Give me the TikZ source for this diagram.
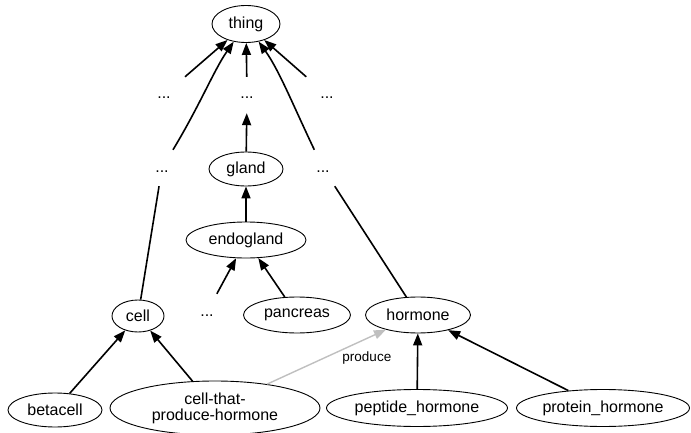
\documentclass[tikz,border=0pt]{standalone}
\usepackage{fontspec}
\setmainfont{Liberation Sans}
\usetikzlibrary{shapes.geometric,arrows.meta}
\begin{document}
\begin{tikzpicture}[x=1pt,y=-1pt,
  every node/.style={font=\fontsize{16}{18}\selectfont},
  cls/.style={ellipse,draw,line width=0.9pt,inner sep=0pt,minimum height=36pt},
  more/.style={inner sep=0pt,minimum width=54pt,minimum height=36pt,text height=11pt,text depth=3pt},
  isa/.style={-{Triangle[length=12pt,width=9pt]},line width=1.6pt},
  link/.style={line width=1.6pt},
  rel/.style={-{Triangle[length=12pt,width=9pt]},line width=1.4pt,draw=black!25}]
\useasboundingbox (0,0) rectangle (691,433);
\node[cls,minimum width=68pt,minimum height=37pt] (thing) at (246,24) {thing};
\node[more] (d1) at (164,95) {...};
\node[more] (d2) at (247,95) {...};
\node[more] (d3) at (327,95) {...};
\node[more] (d4) at (162,168) {...};
\node[cls,minimum width=74pt,minimum height=34pt] (gland) at (246,169) {gland};
\node[more] (d5) at (323,168) {...};
\node[cls,minimum width=120pt] (endogland) at (246,240) {endogland};
\node[cls,minimum width=52pt,minimum height=32pt] (cell) at (138,316) {cell};
\node[more] (d6) at (207,312) {...};
\node[cls,minimum width=107pt] (pancreas) at (297,315) {pancreas};
\node[cls,minimum width=105pt] (hormone) at (418,315) {hormone};
\node[cls,minimum width=94pt,minimum height=34pt] (betacell) at (55,410) {betacell};
\node[cls,minimum width=210pt,minimum height=54pt,align=center,font=\fontsize{16}{16}\selectfont] (producer) at (215,408) {cell-that-\\produce-hormone};
\node[cls,minimum width=181pt,minimum height=37pt] (peptide) at (417,408) {peptide\_hormone};
\node[cls,minimum width=173pt,minimum height=37pt] (protein) at (603,408) {protein\_hormone};
\draw[isa] (d1) -- (thing);
\draw[isa] (d4) .. controls (200,105) and (214,70) .. (thing);
\draw[isa] (d2) -- (thing);
\draw[isa] (d5) .. controls (293,105) and (279,70) .. (thing);
\draw[isa] (d3) -- (thing);
\draw[isa] (gland) -- (d2);
\draw[isa] (endogland) -- (gland);
\draw[link] (cell) -- (d4);
\draw[link] (hormone) -- (d5);
\draw[isa] (d6) -- (endogland);
\draw[isa] (pancreas) -- (endogland);
\draw[isa] (betacell) -- (cell);
\draw[isa] (producer) -- (cell);
\draw[rel] (producer) -- node[pos=0.62,anchor=north west,inner sep=1pt,text=black,font=\fontsize{13.5}{16}\selectfont] {produce} (hormone);
\draw[isa] (peptide) -- (hormone);
\draw[isa] (protein) -- (hormone);
\end{tikzpicture}
\end{document}
